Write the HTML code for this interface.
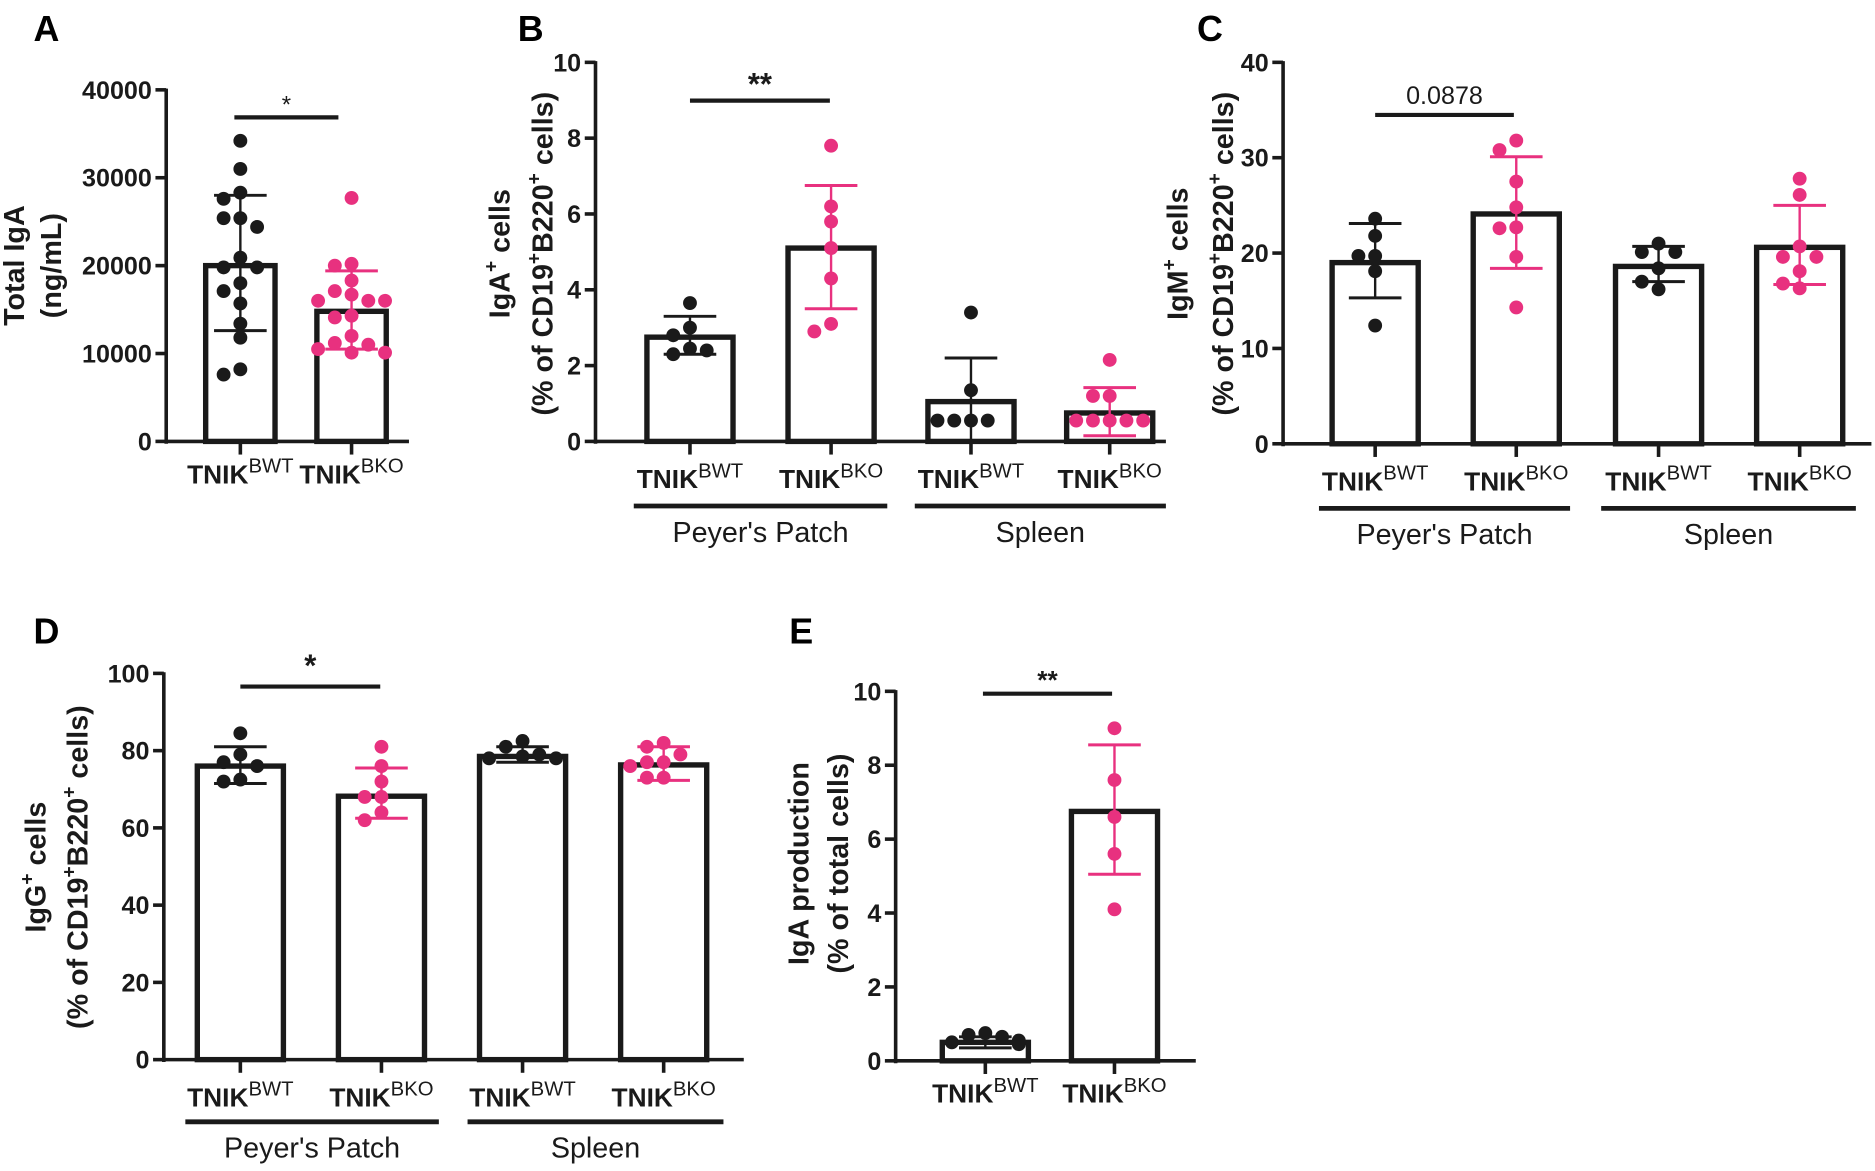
<!DOCTYPE html>
<html><head><meta charset="utf-8"><style>
html,body{margin:0;padding:0;background:#fff}
svg{display:block;font-family:"Liberation Sans",Arial,sans-serif}
</style></head><body>
<svg id="fig" width="1875" height="1171" viewBox="0 0 1568 979" xmlns="http://www.w3.org/2000/svg"></svg>
<script>
// ---- Panel A data ----
const aCategories=["WT","KO"];
const aMeans=[20000,14800];
const aSdLow=[12600,10500];
const aSdHigh=[28000,19400];
const aPointsWT=[34200,31000,28300,27600,25400,25400,24400,20900,19800,19800,18000,17100,15700,13400,11800,8200,7600];
const aPointsKO=[27700,20200,20000,18300,17100,16700,16000,16000,16000,14300,14100,12000,11200,11000,10500,10100,10100];
const aTicks=[0,10000,20000,30000,40000];
// ---- Panel B data ----
const bMeans=[2.75,5.1,1.05,0.75];
const bSdLow=[2.3,3.5,0,0.15];
const bSdHigh=[3.3,6.75,2.2,1.42];
const bPts0=[3.65,3.0,2.8,2.45,2.3,2.4];
const bPts1=[7.8,6.2,5.8,5.1,4.3,3.1,2.9];
const bPts2=[3.4,1.35,0.55,0.55,0.55,0.55];
const bPts3=[2.15,1.2,1.2,0.55,0.55,0.55,0.55,0.55];
const bTicks=[0,2,4,6,8,10];
// ---- Panel C data ----
const cMeans=[19,24.1,18.6,20.6];
const cSdLow=[15.3,18.4,17,16.7];
const cSdHigh=[23.1,30.1,20.7,25];
const cPts0=[23.6,21.8,19.7,19.7,18.1,12.4];
const cPts1=[31.8,30.8,27.5,24.8,22.7,22.6,19.6,14.3];
const cPts2=[21,20.1,20.1,18.4,17,16.2];
const cPts3=[27.8,26.1,20.7,19.6,19.6,18.1,16.8,16.3];
const cTicks=[0,10,20,30,40];
// ---- Panel D data ----
const dMeans=[76,68.2,78.5,76.3];
const dSdLow=[71.5,62.5,77,72.3];
const dSdHigh=[81,75.5,81,81];
const dPts0=[84.5,79,77,76,72.5,72];
const dPts1=[81,76,72,68,68,64,62];
const dPts2=[82.5,81,79,78.5,78,78];
const dPts3=[82,81,79,77,77,76,73,73];
const dTicks=[0,20,40,60,80,100];
// ---- Panel E data ----
const eMeans=[0.5,6.75];
const eSdLow=[0.35,5.05];
const eSdHigh=[0.65,8.55];
const ePts0=[0.75,0.7,0.65,0.5,0.45,0.55];
const ePts1=[9,7.6,6.6,5.6,4.1];
const eTicks=[0,2,4,6,8,10];

const NS="http://www.w3.org/2000/svg";
const svg=document.getElementById('fig');
const BLK="#1a1a1a",PNK="#e8317f";
function mk(tag,attrs,parent,text){const e=document.createElementNS(NS,tag);for(const k in attrs)e.setAttribute(k,attrs[k]);if(text!==undefined)e.textContent=text;(parent||svg).appendChild(e);return e;}

function panel(cfg){
  const g=mk('g',{});
  
  
  const y=v=>cfg.y0-(v-cfg.min)/(cfg.max-cfg.min)*(cfg.y0-cfg.yTop);
  const lt=mk('text',{x:cfg.letter[0],y:cfg.letter[1],'font-size':30,'font-weight':'bold',fill:'#000'},g,cfg.letterText);
  
  
  const ax=mk('line',{x1:cfg.ax,y1:y(cfg.max)-1,x2:cfg.ax,y2:cfg.y0+2,stroke:BLK,'stroke-width':3},g);
  
  
  const xa=mk('line',{x1:cfg.ax-1,y1:cfg.y0,x2:cfg.axEnd,y2:cfg.y0,stroke:BLK,'stroke-width':3},g);
  
  
  cfg.ticks.forEach(t=>{
    mk('line',{x1:cfg.ax-9,y1:y(t),x2:cfg.ax,y2:y(t),stroke:BLK,'stroke-width':3},g);
    const tl=mk('text',{x:cfg.ax-12,y:y(t)+7.5,'font-size':21,'font-weight':'bold','text-anchor':'end',fill:BLK},g,String(t));
    
    
  });
  cfg.titles.forEach((tt,i)=>{
    const t=mk('text',{transform:`translate(${tt.x},${tt.y}) rotate(-90)`,'font-size':24,'font-weight':'bold','text-anchor':'middle',fill:BLK},g);
    t.innerHTML=tt.html;
    
    
  });
  cfg.means.forEach((m,i)=>{
    const cx=cfg.centers[i],w=cfg.bw;
    const col=i%2===0?BLK:PNK;
    const bar=mk('rect',{x:cx-w/2,y:y(m),width:w,height:cfg.y0-y(m),fill:'#fff',stroke:BLK,'stroke-width':4.5},g);
    
    
    mk('line',{x1:cx,y1:cfg.y0,x2:cx,y2:cfg.y0+11,stroke:BLK,'stroke-width':3},g);
    const pts=cfg.points[i];
    mk('line',{x1:cx,y1:y(cfg.sdHigh[i]),x2:cx,y2:y(cfg.sdLow[i]),stroke:col,'stroke-width':2},g);
    [cfg.sdHigh[i],cfg.sdLow[i]].forEach(v=>mk('line',{x1:cx-22,y1:y(v),x2:cx+22,y2:y(v),stroke:col,'stroke-width':2.5},g));
    const offs=[0,-14,14,-28,28];
    const placed=[];
    pts.forEach((v,j)=>{
      const py=y(v);
      let k=0;
      for(;k<offs.length;k++){
        const dx=offs[k];
        if(!placed.some(p=>Math.hypot(p[0]-dx,p[1]-py)<11.5))break;
      }
      const dx=offs[Math.min(k,4)];
      placed.push([dx,py]);
      const c=mk('circle',{cx:cx+dx,cy:py,r:5.8,fill:col},g);
      
      
    });
    const lab=mk('text',{x:cx,y:cfg.labY,'font-size':22,'font-weight':'bold','text-anchor':'middle',fill:BLK},g);
    lab.innerHTML='TNIK<tspan font-size="17" font-weight="normal" dy="-9">'+(i%2===0?'BWT':'BKO')+'</tspan>';
    
    
  });
  if(cfg.groups){
    cfg.groups.forEach(gr=>{
      mk('line',{x1:gr.x1,y1:cfg.grY,x2:gr.x2,y2:cfg.grY,stroke:BLK,'stroke-width':4},g);
      const t=mk('text',{x:(gr.x1+gr.x2)/2,y:cfg.grY+30,'font-size':24,'text-anchor':'middle',fill:BLK},g,gr.t);
      
      
    });
  }
  const s=cfg.sig;
  const sl=mk('line',{x1:s.x1,y1:s.y,x2:s.x2,y2:s.y,stroke:BLK,'stroke-width':3.5},g);
  
  
  const st=mk('text',{x:(s.x1+s.x2)/2,y:s.ty,'font-size':s.fs,'font-weight':s.fw,'text-anchor':'middle',fill:BLK},g,s.t);
  
  
}
const sup='<tspan font-size="16" dy="-10">+</tspan><tspan dy="10">';
panel({name:'panel-a',letterText:'A',letter:[28,34],min:0,max:40000,y0:369,yTop:75,ax:139,axEnd:342,ticks:aTicks,
  titles:[{x:20,y:222,html:'Total IgA'},{x:51,y:222,html:'(ng/mL)'}],
  means:aMeans,sdLow:aSdLow,sdHigh:aSdHigh,points:[aPointsWT,aPointsKO],centers:[201,294],bw:58,labY:404,
  sig:{x1:196,x2:283,y:98,t:'*',ty:94,fs:20,fw:'normal'}});
panel({name:'panel-b',letterText:'B',letter:[433,34],min:0,max:10,y0:369,yTop:52,ax:498,axEnd:975,ticks:bTicks,
  titles:[{x:426,y:212,html:'IgA'+sup+' cells</tspan>'},{x:462,y:212,html:'(% of CD19'+sup+'B220</tspan>'+sup+' cells)</tspan>'}],
  means:bMeans,sdLow:bSdLow,sdHigh:bSdHigh,points:[bPts0,bPts1,bPts2,bPts3],centers:[577,695,812,928],bw:72,labY:408,
  groups:[{x1:530,x2:742,t:"Peyer's Patch"},{x1:765,x2:975,t:'Spleen'}],grY:423,
  sig:{x1:577,x2:694,y:84,t:'**',ty:79,fs:26,fw:'bold'}});
panel({name:'panel-c',letterText:'C',letter:[1001,34],min:0,max:40,y0:371,yTop:52,ax:1073,axEnd:1565,ticks:cTicks,
  titles:[{x:993,y:212,html:'IgM'+sup+' cells</tspan>'},{x:1031,y:212,html:'(% of CD19'+sup+'B220</tspan>'+sup+' cells)</tspan>'}],
  means:cMeans,sdLow:cSdLow,sdHigh:cSdHigh,points:[cPts0,cPts1,cPts2,cPts3],centers:[1150,1268,1387,1505],bw:72,labY:410,
  groups:[{x1:1103,x2:1313,t:"Peyer's Patch"},{x1:1339,x2:1552,t:'Spleen'}],grY:425,
  sig:{x1:1150,x2:1266,y:96,t:'0.0878',ty:87,fs:21,fw:'normal'}});
panel({name:'panel-d',letterText:'D',letter:[28,538],min:0,max:100,y0:886,yTop:563,ax:137,axEnd:622,ticks:dTicks,
  titles:[{x:38,y:725,html:'IgG'+sup+' cells</tspan>'},{x:73,y:725,html:'(% of CD19'+sup+'B220</tspan>'+sup+' cells)</tspan>'}],
  means:dMeans,sdLow:dSdLow,sdHigh:dSdHigh,points:[dPts0,dPts1,dPts2,dPts3],centers:[201,319,437,555],bw:72,labY:925,
  groups:[{x1:155,x2:367,t:"Peyer's Patch"},{x1:391,x2:605,t:'Spleen'}],grY:938,
  sig:{x1:201,x2:318,y:574,t:'*',ty:565,fs:26,fw:'bold'}});
panel({name:'panel-e',letterText:'E',letter:[660,538],min:0,max:10,y0:887,yTop:578,ax:749,axEnd:1000,ticks:eTicks,
  titles:[{x:676,y:722,html:'IgA production'},{x:709,y:722,html:'(% of total cells)'}],
  means:eMeans,sdLow:eSdLow,sdHigh:eSdHigh,points:[ePts0,ePts1],centers:[824,932],bw:72,labY:922,
  sig:{x1:822,x2:930,y:580,t:'**',ty:576,fs:22,fw:'bold'}});
</script>
</body></html>
